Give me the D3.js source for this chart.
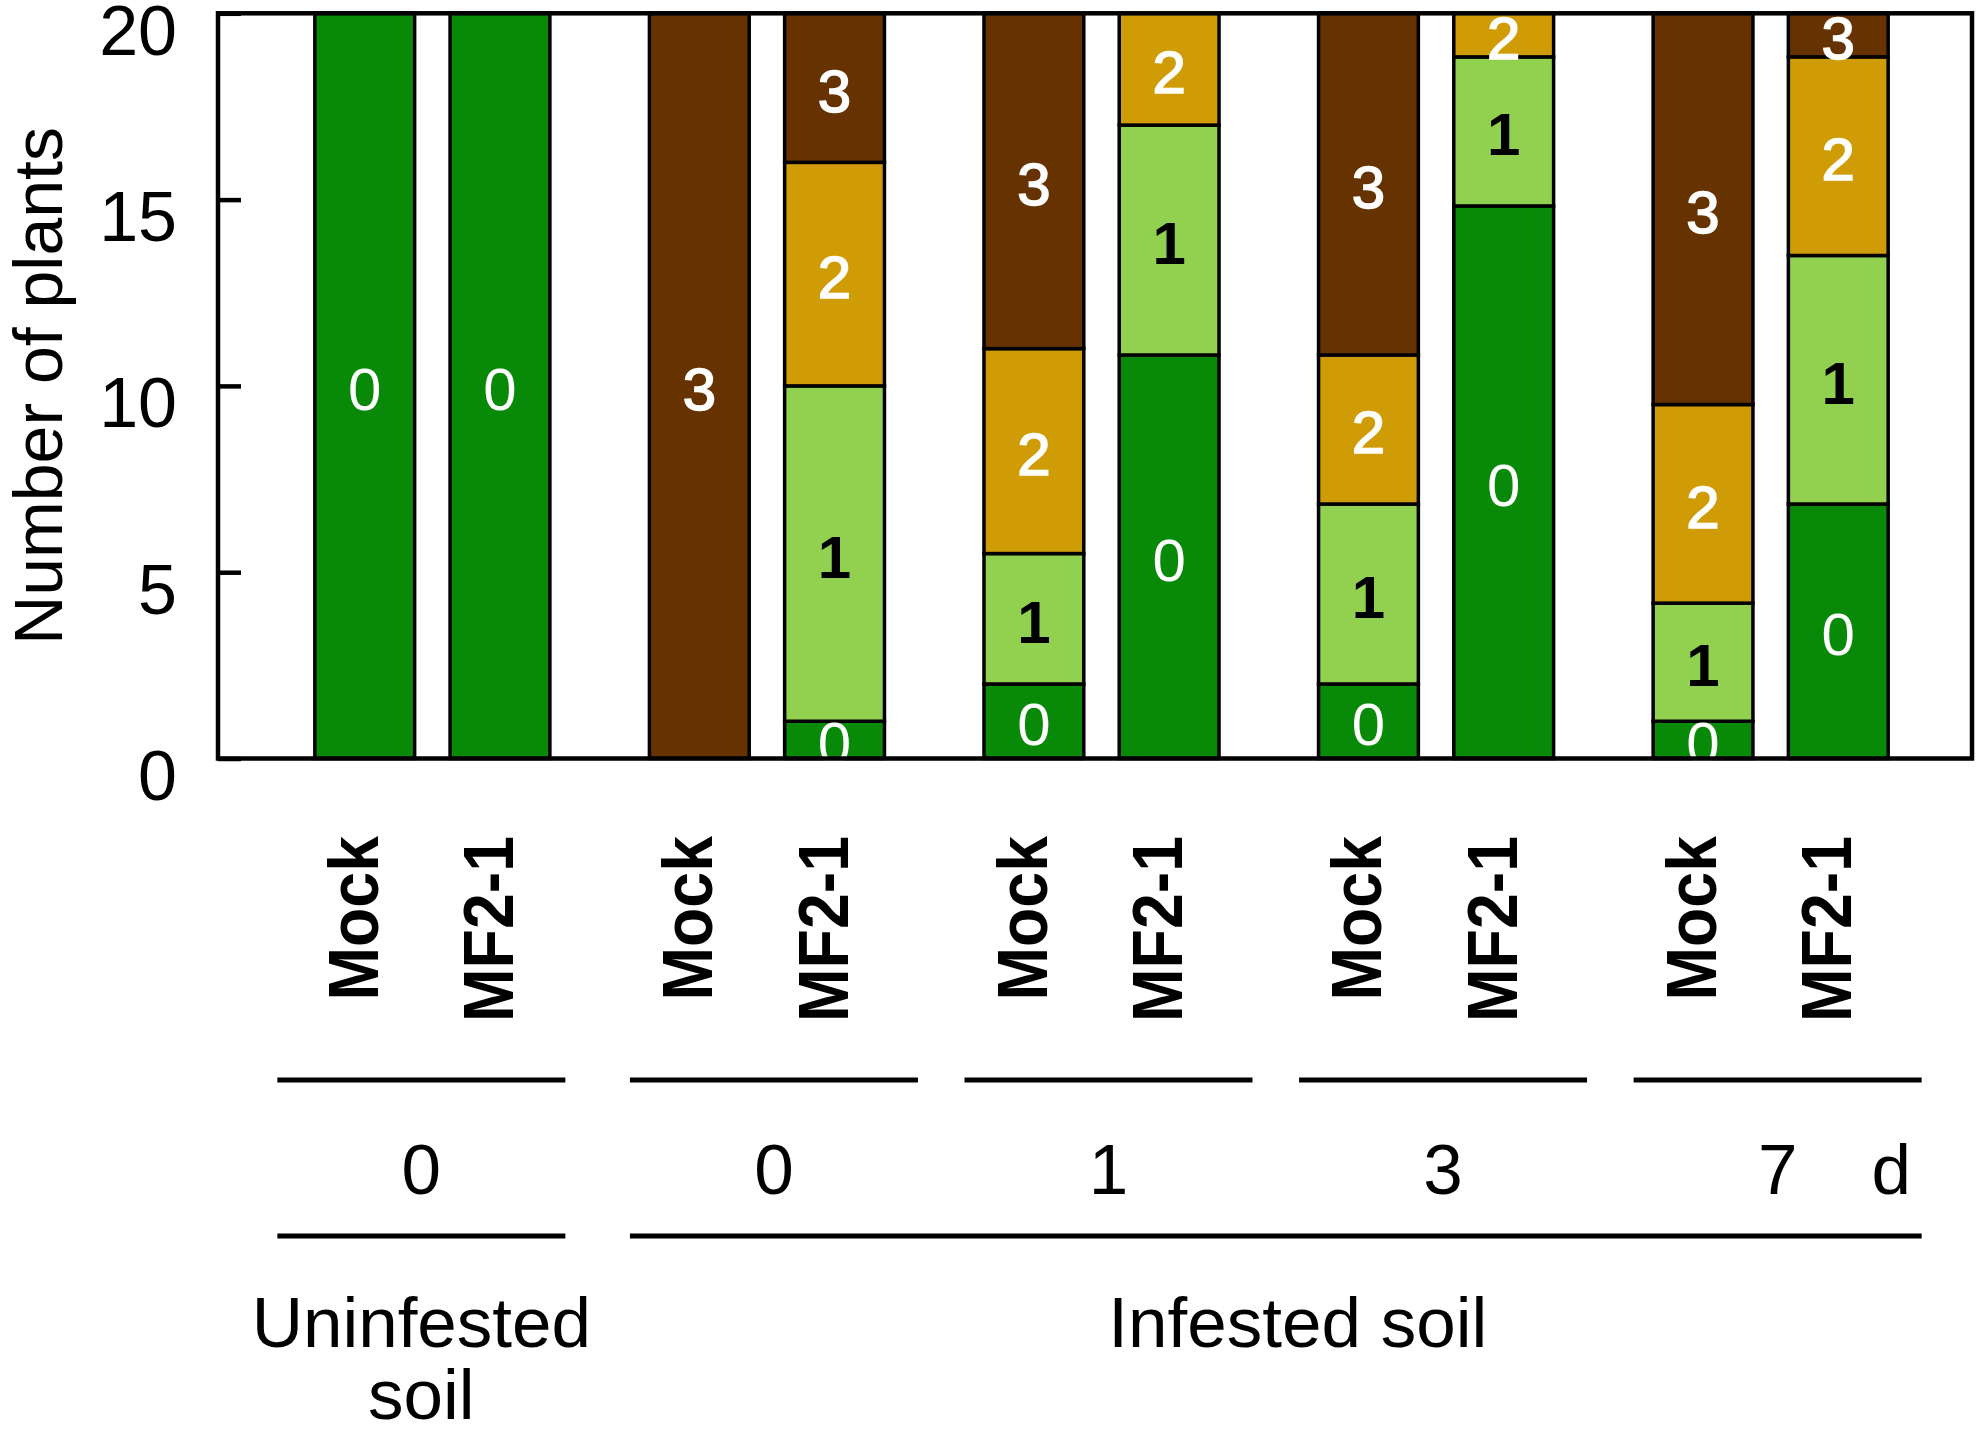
<!DOCTYPE html>
<html><head><meta charset="utf-8">
<script src="https://cdn.jsdelivr.net/npm/d3@7"></script>
<style>body{margin:0;background:#fff} svg{display:block}</style>
</head><body><svg id="c" width="1983" height="1434"></svg>
<script>
// ---- data ----
const groups = ["U0", "I0", "I1", "I3", "I7"];
const groupDays = ["0", "0", "1", "3", "7"];
const groupSoil = ["Uninfested", "Infested", "Infested", "Infested", "Infested"];
const treatments = ["Mock", "MF2-1"];
const scores = ["0", "1", "2", "3"];
// number of plants per disease score, bars in order group x treatment
const score0 = [20, 20, 0, 1, 2, 10.83, 2, 14.83, 1, 6.83];
const score1 = [0, 0, 0, 9, 3.5, 6.17, 4.83, 4, 3.17, 6.67];
const score2 = [0, 0, 0, 6, 5.5, 3, 4, 1.17, 5.33, 5.33];
const score3 = [0, 0, 20, 4, 9, 0, 9.17, 0, 10.5, 1.17];
const yTicks = [0, 5, 10, 15, 20];
const soilLabels = {Uninfested: ["Uninfested", "soil"], Infested: ["Infested soil"]};
const dayUnit = "d";

// ---- build table ----
const bars = [];
groups.forEach((g, gi) => treatments.forEach((t, ti) => {
  const i = gi * treatments.length + ti;
  bars.push({group: g, treatment: t, "0": score0[i], "1": score1[i], "2": score2[i], "3": score3[i]});
}));

const colors = {"0": "#088a08", "1": "#92d050", "2": "#d09c05", "3": "#663300"};
const labelColors = {"0": "#fff", "1": "#000", "2": "#fff", "3": "#fff"};
const labelWeights = {"0": "normal", "1": "bold", "2": "normal", "3": "normal"};
const labelStroke = {"0": 0, "1": 0, "2": 1.6, "3": 1.6};
const FONT = "'Liberation Sans', Arial, Helvetica, sans-serif";

const L = 218, R = 1972, T = 13.3, B = 758.5;
const svg = d3.select("#c").style("font-family", FONT);

const y = d3.scaleLinear().domain([0, 20]).range([B, T]);
const x0 = d3.scaleBand().domain(groups).range([L, R])
  .paddingInner(0.2975).paddingOuter(0.27).align(0.536);
const x1 = d3.scaleBand().domain(treatments).range([0, x0.bandwidth()])
  .paddingInner(0.262).paddingOuter(0);

const stack = d3.stack().keys(scores);
const series = stack(bars);

const gBars = svg.append("g");
series.forEach(s => {
  gBars.selectAll(null).data(s.filter(d => d[1] - d[0] > 0)).enter().append("rect")
    .attr("x", d => x0(d.data.group) + x1(d.data.treatment))
    .attr("width", x1.bandwidth())
    .attr("y", d => y(d[1]))
    .attr("height", d => y(d[0]) - y(d[1]))
    .attr("fill", colors[s.key])
    .attr("stroke", "#000")
    .attr("stroke-width", 3.5);
});

// segment labels
series.forEach(s => {
  gBars.selectAll(null).data(s.filter(d => d[1] - d[0] > 0)).enter().append("text")
    .attr("x", d => x0(d.data.group) + x1(d.data.treatment) + x1.bandwidth() / 2)
    .attr("y", d => y((d[0] + d[1]) / 2) + 24)
    .attr("text-anchor", "middle")
    .attr("font-size", 60)
    .attr("font-weight", labelWeights[s.key])
    .attr("fill", labelColors[s.key])
    .attr("stroke", labelStroke[s.key] ? labelColors[s.key] : "none")
    .attr("stroke-width", labelStroke[s.key])
    .text(s.key);
});

// frame
svg.append("rect").attr("x", L).attr("y", T).attr("width", R - L).attr("height", B - T)
  .attr("fill", "none").attr("stroke", "#000").attr("stroke-width", 4.5);

// y axis
const yAxis = svg.append("g").attr("transform", `translate(${L},0)`)
  .call(d3.axisLeft(y).tickValues(yTicks).tickSize(-23).tickPadding(41));
yAxis.select(".domain").remove();
yAxis.selectAll(".tick line").attr("stroke", "#000").attr("stroke-width", 4.5);
yAxis.selectAll(".tick text").attr("dy", 41).attr("font-size", 70)
  .attr("font-family", FONT).attr("fill", "#000");

svg.append("text").attr("transform", `translate(62,${(T + B) / 2}) rotate(-90)`)
  .attr("text-anchor", "middle").attr("font-size", 68).text("Number of plants");

// x labels (treatments)
svg.selectAll(null).data(bars).enter().append("text")
  .attr("transform", d => `translate(${x0(d.group) + x1(d.treatment) + x1.bandwidth() / 2 + 13},836) rotate(-90) scale(0.92,1)`)
  .attr("text-anchor", "end").attr("font-size", 70).attr("font-weight", "bold")
  .text(d => d.treatment);

// group annotation rows
const soilShift = {Uninfested: -11, Infested: 7};
const halfLine = 144;
const gc = (g, i) => x0(g) + x0.bandwidth() / 2 + soilShift[groupSoil[i]];
svg.selectAll(null).data(groups).enter().append("line")
  .attr("x1", (g, i) => gc(g, i) - halfLine).attr("x2", (g, i) => gc(g, i) + halfLine)
  .attr("y1", 1080).attr("y2", 1080).attr("stroke", "#000").attr("stroke-width", 5);
svg.selectAll(null).data(groups).enter().append("text")
  .attr("x", (g, i) => gc(g, i)).attr("y", 1194)
  .attr("text-anchor", "middle").attr("font-size", 71)
  .text((g, i) => groupDays[i]);
svg.append("text").attr("x", x0(groups[groups.length - 1]) + x0.bandwidth() + 3).attr("y", 1194)
  .attr("text-anchor", "middle").attr("font-size", 71).text(dayUnit);

// soil rows
const soils = ["Uninfested", "Infested"];
soils.forEach(s => {
  const idx = groups.map((g, i) => i).filter(i => groupSoil[i] === s);
  const xa = gc(groups[idx[0]], idx[0]) - halfLine;
  const xb = gc(groups[idx[idx.length - 1]], idx[idx.length - 1]) + halfLine;
  svg.append("line").attr("x1", xa).attr("x2", xb).attr("y1", 1236).attr("y2", 1236)
    .attr("stroke", "#000").attr("stroke-width", 5);
  const lines = soilLabels[s];
  const cx = (xa + xb) / 2 + (s === "Infested" ? 22 : 0);
  const t = svg.append("text").attr("text-anchor", "middle").attr("font-size", 71);
  lines.forEach((ln, k) => t.append("tspan").attr("x", cx).attr("y", 1347 + k * 72).text(ln));
});
</script></body></html>
